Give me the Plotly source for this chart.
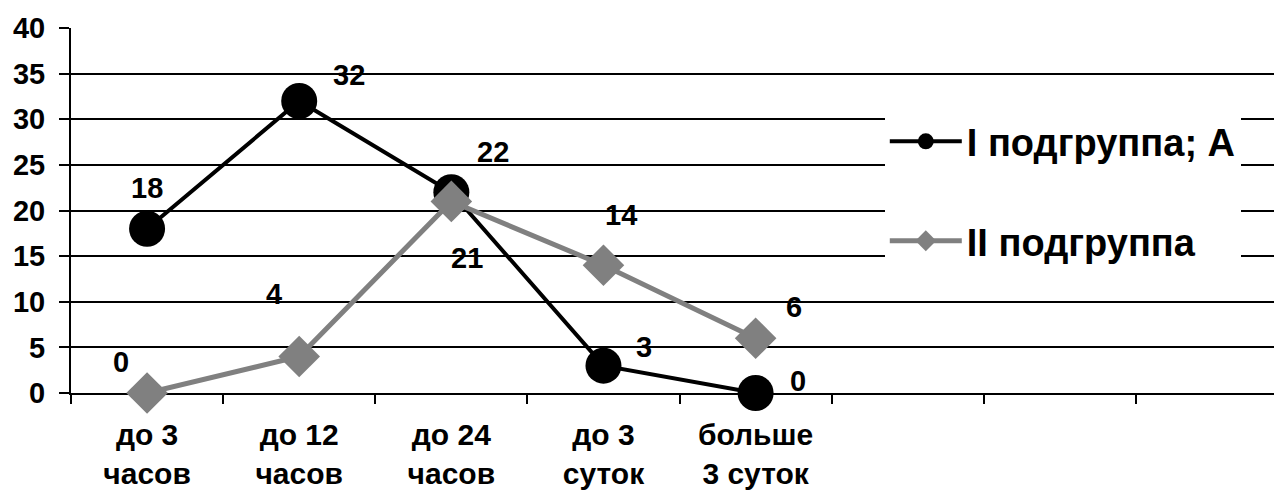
import plotly.graph_objects as go

categories = ["до 3<br>часов", "до 12<br>часов", "до 24<br>часов", "до 3<br>суток", "больше<br>3 суток"]
empty_slots = [" ", "  ", "   "]
series1_name = "I подгруппа; А"
series1 = [18, 32, 22, 3, 0]
series2_name = "II подгруппа"
series2 = [0, 4, 21, 14, 6]
y_ticks = [0, 5, 10, 15, 20, 25, 30, 35, 40]

# label offsets in pixels (style only)
off1 = [(0, 41), (50, 26), (42, 40), (41, 19), (42, 12)]
off2 = [(-26, 31), (-25, 63), (16, -57), (18, 50), (38, 31)]

FONT = "Liberation Sans, Arial, sans-serif"
GRAY = "#808080"

fig = go.Figure()
fig.add_trace(go.Scatter(
    x=categories, y=series1, name=series1_name, mode="lines+markers",
    line=dict(color="black", width=4),
    marker=dict(symbol="circle", size=36, color="black"),
    cliponaxis=False, legendgroup="g1",
))
fig.add_trace(go.Scatter(
    x=categories, y=series2, name=series2_name, mode="lines+markers",
    line=dict(color=GRAY, width=5),
    marker=dict(symbol="diamond", size=32, color=GRAY),
    cliponaxis=False, legendgroup="g2",
))

annotations = []
for cat, v, (dx, dy) in zip(categories, series1, off1):
    annotations.append(dict(x=cat, y=v, xref="x", yref="y", text=f"<b>{v}</b>",
                            showarrow=False, xshift=dx, yshift=dy,
                            font=dict(family=FONT, size=29, color="black")))
for cat, v, (dx, dy) in zip(categories, series2, off2):
    annotations.append(dict(x=cat, y=v, xref="x", yref="y", text=f"<b>{v}</b>",
                            showarrow=False, xshift=dx, yshift=dy,
                            font=dict(family=FONT, size=29, color="black")))

fig.update_layout(
    width=1274, height=487,
    margin=dict(l=63, r=0, t=20, b=102, autoexpand=False),
    paper_bgcolor="white", plot_bgcolor="white",
    font=dict(family=FONT, color="black", size=28, weight="bold"),
    annotations=annotations,
    showlegend=True,
    legend=dict(
        x=0.672, y=0.775, xanchor="left", yanchor="top",
        bgcolor="white", borderwidth=0,
        font=dict(family=FONT, size=38, color="black", weight="bold"),
        tracegroupgap=47, traceorder="grouped",
        itemsizing="trace", itemwidth=72,
    ),
    xaxis=dict(
        type="category", categoryorder="array",
        categoryarray=categories + empty_slots,
        range=[-0.5, 7.46],
        tickson="boundaries", ticks="outside", ticklen=9, tickwidth=2, tickcolor="black",
        showline=True, linecolor="black", linewidth=2,
        showgrid=False, zeroline=False,
        tickfont=dict(family=FONT, size=30, color="black", weight="bold"),
        ticklabelstandoff=14,
        layer="below traces",
    ),
    yaxis=dict(
        range=[0, 40], tickvals=y_ticks,
        ticks="outside", ticklen=10, tickwidth=2, tickcolor="black",
        showline=True, linecolor="black", linewidth=2,
        showgrid=True, gridcolor="black", gridwidth=2,
        zeroline=False,
        tickfont=dict(family=FONT, size=29, color="black", weight="bold"),
        ticklabelstandoff=8,
        layer="below traces",
    ),
)

fig.write_html("out.html")
